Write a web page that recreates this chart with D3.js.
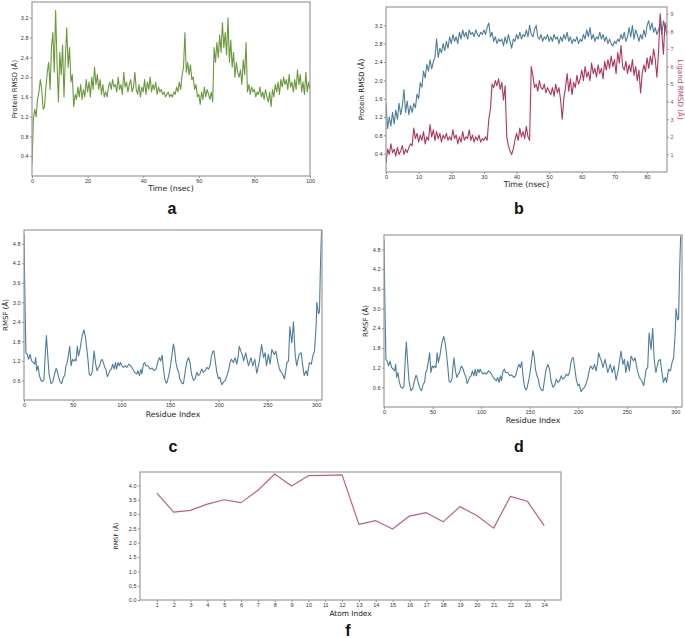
<!DOCTYPE html>
<html lang="en">
<head>
<meta charset="UTF-8">
<script src="https://d3js.org/d3.v7.min.js"></script>
<title>RMSD / RMSF panels</title>
<style>
  body { margin: 0; background: #fff; font-family: "DejaVu Sans", sans-serif; }
  .tick text { fill: #333; }
  .letter { font-family: "Liberation Sans", Arial, sans-serif; font-weight: bold; font-size: 16px; fill: #111; }
  .alabel { fill: #222; }
</style>
</head>
<body>
<svg id="fig" width="685" height="638"></svg>
<script>
// ---- data ----
// panel a: protein RMSD, sampled every 0.5 ns, 0..100 ns
var timeA = d3.range(0, 100.001, 0.5);
var rmsdA = [
  0.25, 1.15, 1.35, 1.2, 1.55, 1.7, 1.95, 1.75, 1.35, 1.4,
  1.8, 2.1, 2.3, 1.75, 2.6, 2.9, 2.1, 3.35, 2.3, 1.5,
  2.5, 2.05, 2.65, 1.6, 2.4, 3.0, 2.2, 2.6, 1.9, 2.05,
  1.4, 1.65, 1.55, 1.8, 1.6, 1.85, 1.55, 1.75, 1.6, 1.95,
  1.7, 1.9, 1.6, 2.0, 1.75, 2.2, 1.85, 2.05, 1.75, 1.95,
  1.65, 1.85, 1.6, 1.7, 1.6, 1.8, 1.9, 1.75, 1.95, 1.8,
  1.85, 1.7, 2.0, 1.75, 1.85, 1.65, 2.1, 1.8, 1.9, 1.7,
  1.85, 1.95, 1.7, 1.8, 2.1, 1.75, 1.65, 1.85, 1.6, 1.8,
  1.7, 1.95, 1.65, 1.9, 1.75, 2.0, 1.7, 1.85, 1.75, 1.9,
  1.65, 1.8, 1.7, 1.75, 1.65, 1.7, 1.6, 1.65, 1.7, 1.6,
  1.65, 1.6, 1.7, 1.65, 1.8, 1.7, 1.9, 1.75, 2.05, 2.2,
  2.9, 2.1, 2.3, 2.05, 2.25, 1.95, 2.0, 1.75, 1.85, 1.6,
  1.65, 1.45, 1.7, 1.55, 1.8, 1.6, 1.75, 1.65, 1.55, 1.7,
  1.5, 2.6, 2.3, 2.7, 2.4, 2.85, 2.5, 3.1, 2.6, 2.9,
  2.45, 3.2, 2.3, 2.75, 2.2, 2.5, 2.0, 2.3, 2.1, 2.0,
  2.15, 1.85, 2.35, 2.05, 2.7, 1.7, 1.85, 1.65, 1.8, 1.7,
  1.75, 1.6, 1.7, 1.65, 1.8, 1.6, 1.7, 1.55, 1.75, 1.6,
  1.5, 1.7, 1.4, 1.75, 1.6, 1.85, 1.7, 1.9, 1.65, 1.95,
  1.8, 2.0, 1.85, 1.95, 1.75, 2.05, 1.8, 1.9, 1.7, 1.95,
  1.75, 2.15, 1.85, 2.05, 1.7, 1.9, 1.65, 2.1, 1.7, 1.9,
  1.75
];

// panel b: protein RMSD (left axis) and ligand RMSD (right axis), every 0.5 ns, 0..86 ns
var timeB = d3.range(0, 86.001, 0.5);
var protB = [
  1.5, 0.95, 1.2, 1.0, 1.3, 1.05, 1.35, 1.15, 1.5, 1.25,
  1.45, 1.8, 1.3, 1.55, 1.25, 1.45, 1.3, 1.5, 1.4, 1.7,
  1.6, 1.95, 1.85, 2.2, 2.05, 2.35, 2.2, 2.45, 2.25, 2.4,
  2.5, 2.9, 2.5, 2.7, 2.6, 2.8, 2.65, 2.85, 2.7, 2.95,
  2.8, 3.0, 2.85, 2.95, 2.8, 3.05, 2.9, 3.1, 2.95, 3.05,
  2.9, 3.1, 3.0, 3.05, 2.95, 3.1, 3.0, 2.95, 3.05, 3.0,
  3.1, 3.0, 3.15, 3.25, 2.95, 3.05, 2.85, 2.95, 2.8, 2.9,
  2.85, 2.9, 2.75, 2.95, 2.8, 3.0, 2.85, 2.7, 2.9, 2.85,
  3.0, 2.9, 3.05, 2.9, 3.0, 2.95, 3.1, 2.95, 3.2, 3.0,
  2.95, 3.1, 3.2, 2.95, 2.9, 3.0, 2.85, 2.95, 2.9, 3.0,
  2.85, 2.95, 2.85, 3.0, 2.9, 2.95, 2.8, 2.95, 2.85, 3.0,
  2.9, 3.05, 2.85, 2.95, 2.8, 2.9, 2.85, 2.95, 2.8, 2.9,
  2.85, 3.0, 2.9, 3.1, 2.95, 3.15, 2.9, 3.0, 2.85, 2.95,
  2.9, 3.05, 2.9, 3.0, 2.85, 2.95, 2.8, 2.9, 2.8, 2.75,
  2.85, 2.8, 2.9, 2.85, 3.0, 2.9, 3.05, 2.85, 2.95, 3.15,
  2.95, 3.2, 2.9, 3.1, 3.0, 2.85, 3.0, 2.9, 3.1, 2.95,
  3.2, 3.3, 3.1, 3.25, 3.05, 3.15, 3.0, 3.1, 3.25, 3.0,
  3.3, 3.1, 3.2
];
var ligB = [
  0.5, 1.3, 1.0, 1.6, 1.1, 1.3, 0.9, 1.4, 1.0, 1.2,
  1.5, 1.0, 1.3, 1.1, 1.4, 1.6, 1.5, 2.5, 1.9, 2.2,
  1.7, 2.1, 1.8, 2.3, 1.6, 2.0, 1.8, 2.7, 2.0, 2.4,
  1.8, 2.3, 1.9, 2.2, 1.7, 2.1, 1.9, 2.2, 1.8, 2.0,
  1.8, 2.4, 1.9, 2.1, 1.6, 2.0, 1.7, 2.3, 1.8, 2.0,
  1.9, 2.4, 1.8, 2.1, 1.7, 2.0, 1.8, 2.1, 1.7, 1.9,
  1.8, 2.0, 1.8, 3.0, 3.6, 5.0, 4.8, 5.2, 4.9, 5.3,
  4.7, 5.1, 4.1, 4.9, 2.0, 1.5, 1.2, 1.0, 1.3, 1.8,
  2.2, 1.8, 2.5, 2.0, 2.3, 1.9, 2.6, 2.0, 1.8, 6.0,
  5.5, 4.8, 5.0, 4.6, 5.2, 4.8, 4.7, 5.0, 4.5, 4.8,
  4.6, 4.4, 4.8, 4.3, 5.0, 4.5, 4.8, 4.1, 3.0, 4.2,
  4.8, 5.6, 4.6, 5.3, 4.4, 5.1, 4.8, 5.5, 5.0, 5.3,
  5.8, 5.2, 6.0, 5.4, 5.7, 5.2, 6.2, 5.6, 5.9, 5.4,
  6.1, 5.6, 5.9, 5.3, 6.3, 5.8, 6.4, 5.9, 6.6, 6.0,
  6.4, 5.6, 6.8, 6.2, 7.2, 6.0, 5.8, 6.3, 5.6, 6.1,
  5.7, 6.4, 5.5, 6.0, 5.2, 5.8, 4.5, 5.6, 6.1, 5.7,
  6.5, 5.9, 6.6, 6.1, 7.0, 6.4, 5.4, 6.8, 9.0, 8.0,
  6.7, 8.5, 7.8
];

// panels c and d: protein RMSF per residue (read at these residue positions)
var residue = [
  0, 1, 2, 3.4, 4.8, 6.2, 7.9, 9.6, 11, 12, 13, 14.4, 15.8, 17.5, 19, 20.5, 22, 23, 24.3, 25.7,
  27.7, 29.5, 31, 33, 34, 35.6, 37.3, 38.7, 40.4, 41.8, 43, 44, 45.5, 47, 48.3, 49.7, 51, 52.4, 53.4, 54.8,
  56, 57.5, 59, 60, 61.6, 63, 64.4, 65.8, 67, 68.5, 70, 71, 72, 73.6, 75, 76.4, 77.7, 79, 80, 81.5,
  83, 84, 85.6, 87, 88, 89.7, 91, 92.5, 94, 95, 96.6, 98, 99, 100.7, 102, 103.8, 105.5, 107.5, 109.6, 111.6,
  113.7, 115.8, 117, 118.5, 120, 121, 122.6, 124, 125, 127.4, 129.5, 131.5, 133.6, 135.6, 137.7, 139, 140.4, 141.8, 143, 144.5,
  146, 147, 149, 150.7, 152, 153.4, 154.8, 156, 157.5, 159, 160, 162, 163.7, 165.4, 167, 168.8, 170.5, 172, 174, 175.7,
  177.4, 179, 180.8, 182.5, 184, 186, 187.7, 189.4, 191, 192.5, 194, 195, 196.6, 198, 199.7, 201, 203, 204.8, 206.5, 208,
  210, 211.6, 213, 215, 216.8, 218.5, 220, 221, 222.6, 224, 225.5, 227.7, 230.5, 233, 235, 237, 239, 241.4, 244, 246,
  247.6, 249, 251, 252.7, 254.5, 257, 258.6, 261, 263, 265.4, 267.5, 270, 271.6, 273, 275, 276.7, 278.4, 280, 282.5, 284.6,
  286, 287.7, 289.7, 291, 293, 295, 296.6, 298.3, 300, 300.7, 302.4, 303.4, 304.3, 305.5
];
var rmsf = [
  5.1, 3.0, 1.45, 1.4, 1.25, 1.4, 1.2, 1.15, 1.1, 1.3, 0.9, 1.05, 0.75, 0.6, 0.57, 0.62, 1.5, 1.98, 1.4, 0.8,
  0.5, 0.55, 0.75, 0.97, 0.9, 0.7, 0.55, 0.5, 0.7, 0.75, 1.05, 1.1, 1.35, 1.65, 1.05, 1.25, 1.2, 1.25, 1.2, 1.65,
  1.35, 1.55, 1.85, 2.0, 2.15, 1.95, 1.6, 1.2, 0.78, 0.75, 0.85, 1.2, 1.5, 1.1, 0.9, 1.0, 1.05, 1.2, 1.25, 1.15,
  1.0, 0.95, 0.72, 0.8, 0.9, 0.95, 1.1, 0.95, 1.15, 0.95, 1.15, 1.05, 1.15, 1.05, 1.0, 1.05, 1.0, 1.1, 1.05, 0.95,
  0.85, 0.8, 0.9, 0.75, 0.95, 0.8, 1.1, 1.15, 1.05, 1.05, 0.95, 0.98, 0.9, 0.95, 1.2, 1.3, 1.2, 1.38, 1.0, 0.65,
  0.52, 0.55, 0.8, 1.1, 1.4, 1.72, 1.5, 1.15, 0.95, 0.85, 0.65, 0.52, 0.5, 0.85, 1.15, 1.3, 1.15, 0.8, 0.6, 0.65,
  0.85, 0.75, 0.8, 0.95, 0.85, 0.9, 1.0, 0.95, 1.05, 1.35, 1.5, 1.5, 1.15, 0.85, 0.65, 0.7, 0.47, 0.55, 0.6, 0.7,
  0.9, 1.15, 1.25, 1.15, 1.3, 1.1, 1.35, 1.65, 1.5, 1.4, 1.2, 1.45, 1.05, 1.3, 1.05, 1.25, 0.82, 1.15, 1.7, 1.3,
  1.45, 1.05, 1.4, 1.1, 1.55, 1.4, 1.5, 1.1, 0.9, 0.8, 0.65, 1.15, 1.2, 2.25, 1.75, 2.4, 1.4, 1.05, 1.4, 1.45,
  1.1, 0.75, 0.9, 0.75, 1.15, 1.1, 1.35, 1.5, 2.3, 3.0, 2.65, 2.7, 4.0, 5.2
];

// panel f: ligand RMSF per atom
var atomIndex = d3.range(1, 25);
var rmsfF = [3.73, 3.07, 3.13, 3.35, 3.5, 3.4, 3.83, 4.4, 3.98, 4.34, 4.35, 4.37,
             2.64, 2.77, 2.48, 2.93, 3.05, 2.73, 3.26, 2.95, 2.51, 3.62, 3.45, 2.6];

// tick labels
var ticksA_x = [0, 20, 40, 60, 80, 100];
var ticksA_y = [0.4, 0.8, 1.2, 1.6, 2.0, 2.4, 2.8, 3.2];
var ticksB_x = [0, 10, 20, 30, 40, 50, 60, 70, 80];
var ticksB_yl = [0.4, 0.8, 1.2, 1.6, 2.0, 2.4, 2.8, 3.2];
var ticksB_yr = [1, 2, 3, 4, 5, 6, 7, 8, 9];
var ticksC_x = [0, 50, 100, 150, 200, 250, 300];
var ticksC_y = [0.6, 1.2, 1.8, 2.4, 3.0, 3.6, 4.2, 4.8];
var ticksF_y = [0, 0.5, 1, 1.5, 2, 2.5, 3, 3.5, 4];

// ---- drawing ----
var svg = d3.select("#fig");
var frameColor = "#9a9a9a";
var clipId = 0;

function axisStyle(sel, fs) {
  sel.select(".domain").remove();
  sel.selectAll(".tick line").attr("stroke", "#444").attr("stroke-width", 0.6);
  sel.selectAll(".tick text").style("font-size", fs + "px");
}

function panel(o) {
  var g = svg.append("g");
  var x = d3.scaleLinear().domain(o.xDomain).range([o.left, o.right]);
  var y = d3.scaleLinear().domain(o.yDomain).range([o.bottom, o.top]);
  var fs = o.tickFont || 5.5;

  g.append("g")
    .attr("transform", "translate(0," + o.bottom + ")")
    .call(d3.axisBottom(x).tickValues(o.xTicks).tickSize(2).tickPadding(1)
      .tickFormat(o.xFmt || d3.format("d")))
    .call(function (s) { axisStyle(s, fs); });

  g.append("g")
    .attr("transform", "translate(" + o.left + ",0)")
    .call(d3.axisLeft(y).tickValues(o.yTicks).tickSize(2).tickPadding(1.5)
      .tickFormat(d3.format(".1f")))
    .call(function (s) { axisStyle(s, fs); });

  // clip for the data lines
  var id = "clip" + (clipId++);
  g.append("clipPath").attr("id", id).append("rect")
    .attr("x", o.left).attr("y", o.top)
    .attr("width", o.right - o.left).attr("height", o.bottom - o.top);

  // axis labels
  g.append("text").attr("class", "alabel")
    .attr("x", (o.left + o.right) / 2).attr("y", o.xLabelY)
    .attr("text-anchor", "middle").style("font-size", o.xLabelFont + "px")
    .text(o.xLabel);
  g.append("text").attr("class", "alabel")
    .attr("transform", "translate(" + o.yLabelX + "," + ((o.top + o.bottom) / 2) + ") rotate(-90)")
    .attr("text-anchor", "middle").style("font-size", o.yLabelFont + "px")
    .text(o.yLabel);

  return { g: g, x: x, y: y, clip: "url(#" + id + ")", o: o };
}

function drawLine(p, xs, ys, color, width, yScale) {
  var ys2 = yScale || p.y;
  var line = d3.line().x(function (d, i) { return p.x(xs[i]); })
                      .y(function (d) { return ys2(d); });
  p.g.append("path").datum(ys)
    .attr("clip-path", p.clip)
    .attr("fill", "none").attr("stroke", color)
    .attr("stroke-width", width).attr("stroke-linejoin", "round")
    .attr("d", line);
}

function frame(p) {
  var o = p.o;
  p.g.append("rect").attr("x", o.left).attr("y", o.top)
    .attr("width", o.right - o.left).attr("height", o.bottom - o.top)
    .attr("fill", "none").attr("stroke", frameColor).attr("stroke-width", 1.2);
}

function letter(t, x, y) {
  svg.append("text").attr("class", "letter").attr("x", x).attr("y", y)
    .attr("text-anchor", "middle").text(t);
}

// panel a
var pa = panel({
  left: 32, right: 310, top: 2, bottom: 176,
  xDomain: [0, 100], yDomain: [0, 3.52],
  xTicks: ticksA_x, yTicks: ticksA_y,
  xLabel: "Time (nsec)", xLabelY: 191, xLabelFont: 7.8,
  yLabel: "Protein RMSD (Å)", yLabelX: 17, yLabelFont: 6.8
});
drawLine(pa, timeA, rmsdA, "#6b9a3e", 1.1);
frame(pa);
letter("a", 172, 214);

// panel b
var pb = panel({
  left: 386, right: 667, top: 7, bottom: 172,
  xDomain: [0, 86.1], yDomain: [0, 3.6],
  xTicks: ticksB_x, yTicks: ticksB_yl,
  xLabel: "Time (nsec)", xLabelY: 187, xLabelFont: 7.8,
  yLabel: "Protein RMSD (Å)", yLabelX: 364, yLabelFont: 7.2
});
var yR = d3.scaleLinear().domain([0, 9.39]).range([172, 7]);
var rAx = pb.g.append("g").attr("transform", "translate(667,0)")
  .call(d3.axisRight(yR).tickValues(ticksB_yr).tickSize(2).tickPadding(1.5).tickFormat(d3.format("d")))
  .call(function (s) { axisStyle(s, 5.5); });
rAx.selectAll(".tick text").style("fill", "#b0365e");
rAx.selectAll(".tick line").attr("stroke", "#b0365e");
pb.g.append("text")
  .attr("transform", "translate(678," + ((7 + 172) / 2) + ") rotate(90)")
  .attr("text-anchor", "middle").style("font-size", "7.2px").style("fill", "#c0406a")
  .text("Ligand RMSD (Å)");
drawLine(pb, timeB, protB, "#4d7e9b", 1.1);
drawLine(pb, timeB, ligB, "#b0365e", 1.1, yR);
frame(pb);
letter("b", 519, 214);

// panel c
var pc = panel({
  left: 24, right: 322, top: 230, bottom: 400,
  xDomain: [0, 306], yDomain: [0, 5.22],
  xTicks: ticksC_x, yTicks: ticksC_y,
  xLabel: "Residue Index", xLabelY: 417, xLabelFont: 7.8,
  yLabel: "RMSF (Å)", yLabelX: 8, yLabelFont: 7
});
drawLine(pc, residue, rmsf, "#4d7e9b", 1.1);
frame(pc);
letter("c", 173, 452);

// panel d
var pd = panel({
  left: 384, right: 682, top: 235, bottom: 407,
  xDomain: [0, 306.9], yDomain: [0, 5.24],
  xTicks: ticksC_x, yTicks: ticksC_y,
  xLabel: "Residue Index", xLabelY: 423, xLabelFont: 7.8,
  yLabel: "RMSF (Å)", yLabelX: 368, yLabelFont: 7
});
drawLine(pd, residue, rmsf, "#4d7e9b", 1.1);
frame(pd);
letter("d", 519, 452);

// panel f
var pf = panel({
  left: 140, right: 561, top: 472, bottom: 600,
  xDomain: [0, 25], yDomain: [0, 4.47],
  xTicks: atomIndex, yTicks: ticksF_y,
  xLabel: "Atom Index", xLabelY: 616, xLabelFont: 7.4,
  yLabel: "RMSF (Å)", yLabelX: 118, yLabelFont: 5.8
});
drawLine(pf, atomIndex, rmsfF, "#c25f7f", 1.2);
frame(pf);
letter("f", 348, 636);
</script>
</body>
</html>
